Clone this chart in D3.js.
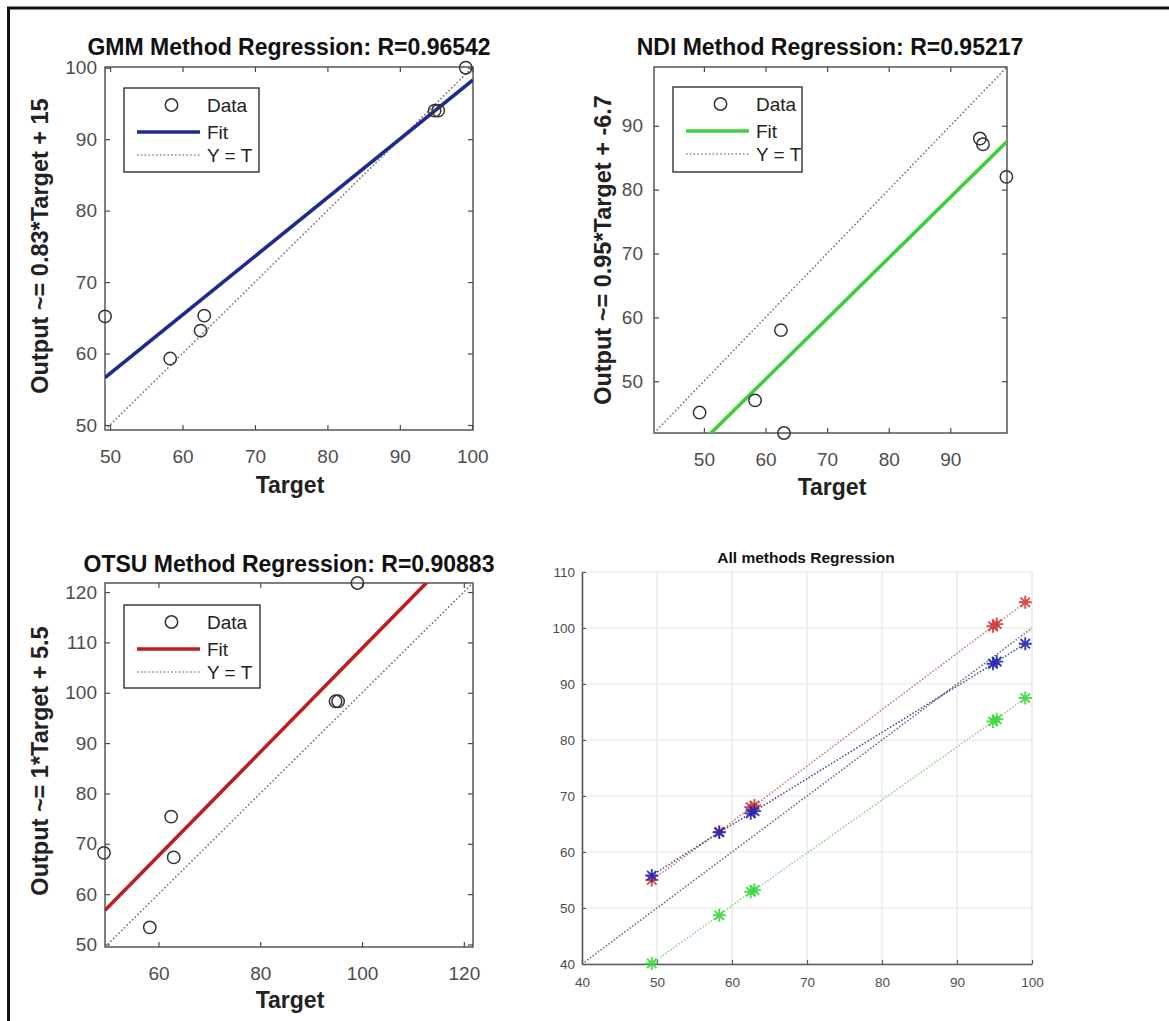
<!DOCTYPE html>
<html>
<head>
<meta charset="utf-8">
<script src="https://cdn.jsdelivr.net/npm/d3@7"></script>
<style>
  html, body { margin: 0; padding: 0; background: #fff; }
  svg { display: block; }
  text { font-family: "Liberation Sans", Arial, Helvetica, sans-serif; }
</style>
</head>
<body>
<svg id="chart" width="1169" height="1021"></svg>
<script>
// ---------------- DATA ----------------
const targets      = [49.3, 58.3, 62.5, 63.0, 94.8, 95.3, 99.1];
const gmmOutput    = [65.2, 59.3, 63.2, 65.3, 94.0, 94.0, 100.0];
const ndiOutput    = [45.1, 47.0, 58.0, 41.9, 88.0, 87.1, 82.0];
const otsuOutput   = [68.2, 53.4, 75.4, 67.3, 98.3, 98.3, 121.8];

const methodNames  = ["GMM", "NDI", "OTSU"];
const rValues      = ["0.96542", "0.95217", "0.90883"];
const fitLabels    = ["Output ~= 0.83*Target + 15", "Output ~= 0.95*Target + -6.7", "Output ~= 1*Target + 5.5"];
const fitSlopes    = [0.82, 0.95, 1.03];
const fitIntercepts= [16.2, -6.7, 5.8];
const axisDomains  = [[49.3, 100.1], [41.9, 99.2], [49.5, 121.8]];

const gmmXTicks  = [50, 60, 70, 80, 90, 100];
const gmmYTicks  = [50, 60, 70, 80, 90, 100];
const ndiXTicks  = [50, 60, 70, 80, 90];
const ndiYTicks  = [50, 60, 70, 80, 90];
const otsuXTicks = [60, 80, 100, 120];
const otsuYTicks = [50, 60, 70, 80, 90, 100, 110, 120];

const legendLabels = ["Data", "Fit", "Y = T"];

// All methods regression (fitted outputs per target)
const allOtsuFit = [55.0, 63.6, 68.0, 68.3, 100.3, 100.7, 104.6];
const allGmmFit  = [55.8, 63.5, 66.9, 67.3, 93.6, 94.0, 97.2];
const allNdiFit  = [40.1, 48.7, 52.9, 53.2, 83.3, 83.7, 87.5];
const allXTicks  = [40, 50, 60, 70, 80, 90, 100];
const allYTicks  = [40, 50, 60, 70, 80, 90, 100, 110];
const allXDomain = [40, 100];
const allYDomain = [40, 110];

// ---------------- DRAW ----------------
const svg = d3.select("#chart");
const FONT = '"Liberation Sans", Arial, Helvetica, sans-serif';

// outer frame (top and left edges)
svg.append("line").attr("x1", 7).attr("x2", 1169).attr("y1", 8).attr("y2", 8)
  .attr("stroke", "#111").attr("stroke-width", 3);
svg.append("line").attr("x1", 8.5).attr("x2", 8.5).attr("y1", 7).attr("y2", 1021)
  .attr("stroke", "#111").attr("stroke-width", 3);

const panels = [
  { idx: 0, outputs: gmmOutput, color: "#1f2a8f", box: {l: 105, r: 473, t: 67, b: 430},
    xTicks: gmmXTicks, yTicks: gmmYTicks, titleX: 289, titleY: 55, ylabX: 48, ylabY: 246,
    xlabX: 290, xlabY: 493, yPad: 8, legend: {x: 124, y: 88, w: 135, h: 84} },
  { idx: 1, outputs: ndiOutput, color: "#3ccf3c", box: {l: 654, r: 1007, t: 67, b: 433},
    xTicks: ndiXTicks, yTicks: ndiYTicks, titleX: 830, titleY: 55, ylabX: 611, ylabY: 250,
    xlabX: 832, xlabY: 495, yPad: 11, legend: {x: 673, y: 87, w: 129, h: 85} },
  { idx: 2, outputs: otsuOutput, color: "#bf1d1d", box: {l: 105, r: 473, t: 583, b: 947},
    xTicks: otsuXTicks, yTicks: otsuYTicks, titleX: 289, titleY: 572, ylabX: 48, ylabY: 761,
    xlabX: 290, xlabY: 1008, yPad: 8, legend: {x: 124, y: 605, w: 136, h: 83} }
];

panels.forEach(p => {
  const i = p.idx;
  const dom = axisDomains[i];
  const x = d3.scaleLinear().domain(dom).range([p.box.l, p.box.r]);
  const y = d3.scaleLinear().domain(dom).range([p.box.b, p.box.t]);
  const g = svg.append("g");

  const clipId = "clip" + i;
  svg.append("clipPath").attr("id", clipId).append("rect")
    .attr("x", p.box.l).attr("y", p.box.t)
    .attr("width", p.box.r - p.box.l).attr("height", p.box.b - p.box.t);

  // axes box
  g.append("rect").attr("x", p.box.l).attr("y", p.box.t)
    .attr("width", p.box.r - p.box.l).attr("height", p.box.b - p.box.t)
    .attr("fill", "#fff").attr("stroke", "#4a4a4a").attr("stroke-width", 1.4);

  const styleAxis = (sel, labels) => {
    sel.select(".domain").remove();
    sel.selectAll(".tick line").attr("stroke", "#4a4a4a").attr("stroke-width", 1.2);
    sel.selectAll(".tick text").attr("fill", "#4d4d4d").style("font-family", FONT)
      .style("font-size", "19px");
    if (!labels) sel.selectAll(".tick text").remove();
  };

  g.append("g").attr("transform", `translate(0,${p.box.b})`)
    .call(d3.axisBottom(x).tickValues(p.xTicks).tickSize(-5).tickPadding(19.5).tickFormat(d3.format("d")))
    .call(s => styleAxis(s, true));
  g.append("g").attr("transform", `translate(0,${p.box.t})`)
    .call(d3.axisTop(x).tickValues(p.xTicks).tickSize(-5).tickFormat(""))
    .call(s => styleAxis(s, false));
  g.append("g").attr("transform", `translate(${p.box.l},0)`)
    .call(d3.axisLeft(y).tickValues(p.yTicks).tickSize(-5).tickPadding(p.yPad).tickFormat(d3.format("d")))
    .call(s => styleAxis(s, true));
  g.append("g").attr("transform", `translate(${p.box.r},0)`)
    .call(d3.axisRight(y).tickValues(p.yTicks).tickSize(-5).tickFormat(""))
    .call(s => styleAxis(s, false));

  // Y = T dotted
  g.append("line").attr("clip-path", `url(#${clipId})`)
    .attr("x1", x(dom[0])).attr("y1", y(dom[0])).attr("x2", x(dom[1])).attr("y2", y(dom[1]))
    .attr("stroke", "#6f6f6f").attr("stroke-width", 1.5).attr("stroke-dasharray", "1.6,2.2");

  // Fit line
  const fx0 = dom[0], fx1 = dom[1];
  g.append("line").attr("clip-path", `url(#${clipId})`)
    .attr("x1", x(fx0)).attr("y1", y(fitSlopes[i] * fx0 + fitIntercepts[i]))
    .attr("x2", x(fx1)).attr("y2", y(fitSlopes[i] * fx1 + fitIntercepts[i]))
    .attr("stroke", p.color).attr("stroke-width", 3.6);

  // data circles
  g.selectAll("circle.data").data(targets.map((t, k) => [t, p.outputs[k]]))
    .join("circle").attr("class", "data")
    .attr("cx", d => x(d[0])).attr("cy", d => y(d[1])).attr("r", 6.2)
    .attr("fill", "none").attr("stroke", "#333").attr("stroke-width", 1.5);

  // title
  g.append("text").attr("x", p.titleX).attr("y", p.titleY).attr("text-anchor", "middle")
    .style("font-size", "23px").style("font-weight", "bold").attr("fill", "#111")
    .text(`${methodNames[i]} Method Regression: R=${rValues[i]}`);
  // x label
  g.append("text").attr("x", p.xlabX).attr("y", p.xlabY).attr("text-anchor", "middle")
    .style("font-size", "23px").style("font-weight", "bold").attr("fill", "#222")
    .text("Target");
  // y label
  g.append("text").attr("transform", `translate(${p.ylabX},${p.ylabY}) rotate(-90)`)
    .attr("text-anchor", "middle")
    .style("font-size", "23.5px").style("font-weight", "bold").attr("fill", "#222")
    .text(fitLabels[i]);

  // legend
  const L = p.legend;
  const lg = g.append("g").attr("transform", `translate(${L.x},${L.y})`);
  lg.append("rect").attr("width", L.w).attr("height", L.h)
    .attr("fill", "#fff").attr("stroke", "#333").attr("stroke-width", 1.4);
  const rowY = [17, 44, 67];
  const symX0 = 13, symX1 = 76, textX = 83;
  lg.append("circle").attr("cx", (symX0 + symX1) / 2 + 3).attr("cy", rowY[0]).attr("r", 6.2)
    .attr("fill", "none").attr("stroke", "#333").attr("stroke-width", 1.5);
  lg.append("line").attr("x1", symX0).attr("x2", symX1).attr("y1", rowY[1]).attr("y2", rowY[1])
    .attr("stroke", p.color).attr("stroke-width", 3.6);
  lg.append("line").attr("x1", symX0).attr("x2", symX1).attr("y1", rowY[2]).attr("y2", rowY[2])
    .attr("stroke", "#8a8a8a").attr("stroke-width", 1.5).attr("stroke-dasharray", "1.6,2.2");
  legendLabels.forEach((lab, k) => {
    lg.append("text").attr("x", textX).attr("y", rowY[k] + 7)
      .style("font-size", "19px").attr("fill", "#222").text(lab);
  });
});

// ---------------- All methods panel ----------------
(function () {
  const box = {l: 582, r: 1032, t: 572, b: 964};
  const x = d3.scaleLinear().domain(allXDomain).range([box.l, box.r]);
  const y = d3.scaleLinear().domain(allYDomain).range([box.b, box.t]);
  const g = svg.append("g");

  // grid
  g.selectAll("line.vgrid").data(allXTicks).join("line").attr("class", "vgrid")
    .attr("x1", d => x(d)).attr("x2", d => x(d)).attr("y1", box.t).attr("y2", box.b)
    .attr("stroke", "#e3e3e3").attr("stroke-width", 1.2);
  g.selectAll("line.hgrid").data(allYTicks).join("line").attr("class", "hgrid")
    .attr("x1", box.l).attr("x2", box.r).attr("y1", d => y(d)).attr("y2", d => y(d))
    .attr("stroke", "#e3e3e3").attr("stroke-width", 1.2);

  const styleAxis = sel => {
    sel.select(".domain").attr("stroke", "#5a5a5a").attr("stroke-width", 1.6);
    sel.selectAll(".tick line").attr("stroke", "#5a5a5a").attr("stroke-width", 1.2);
    sel.selectAll(".tick text").attr("fill", "#4d4d4d").style("font-family", FONT).style("font-size", "13.5px");
  };
  g.append("g").attr("transform", `translate(0,${box.b})`)
    .call(d3.axisBottom(x).tickValues(allXTicks).tickSize(-4).tickSizeOuter(0).tickPadding(13).tickFormat(d3.format("d")))
    .call(styleAxis);
  g.append("g").attr("transform", `translate(${box.l},0)`)
    .call(d3.axisLeft(y).tickValues(allYTicks).tickSize(-4).tickSizeOuter(0).tickPadding(7).tickFormat(d3.format("d")))
    .call(styleAxis);

  // Y = T line
  g.append("line")
    .attr("x1", x(allXDomain[0])).attr("y1", y(allXDomain[0]))
    .attr("x2", x(allXDomain[1])).attr("y2", y(allXDomain[1]))
    .attr("stroke", "#6a6a88").attr("stroke-width", 1.6).attr("stroke-dasharray", "1.5,1.8");

  const series = [
    { vals: allOtsuFit, color: "#d23a3a", lineColor: "#c87a7a" },
    { vals: allGmmFit,  color: "#2424b0", lineColor: "#4a4a8c" },
    { vals: allNdiFit,  color: "#3ad83a", lineColor: "#8cd48c" }
  ];
  const line = d3.line().x(d => x(d[0])).y(d => y(d[1]));
  const star = r => {
    const a = r * 0.72;
    return `M${-r},0L${r},0M0,${-r}L0,${r}M${-a},${-a}L${a},${a}M${-a},${a}L${a},${-a}`;
  };
  series.forEach(s => {
    const pts = targets.map((t, k) => [t, s.vals[k]]);
    g.append("path").attr("d", line(pts)).attr("fill", "none")
      .attr("stroke", s.lineColor).attr("stroke-width", 1.6).attr("stroke-dasharray", "1.5,1.8");
  });
  series.forEach(s => {
    const pts = targets.map((t, k) => [t, s.vals[k]]);
    g.selectAll(null).data(pts).join("path")
      .attr("transform", d => `translate(${x(d[0])},${y(d[1])})`)
      .attr("d", star(6.5)).attr("fill", "none")
      .attr("stroke", s.color).attr("stroke-width", 1.9).attr("stroke-opacity", 0.9);
  });

  g.append("text").attr("x", 806).attr("y", 563).attr("text-anchor", "middle")
    .style("font-size", "15.5px").style("font-weight", "bold").attr("fill", "#111")
    .text("All methods Regression");
})();
</script>
</body>
</html>
